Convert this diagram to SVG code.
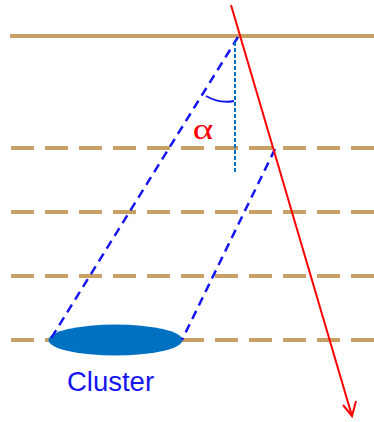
<svg xmlns="http://www.w3.org/2000/svg" width="374" height="422" viewBox="0 0 374 422">
<style>
.layer{stroke:#C9A063;stroke-width:4;fill:none}
.dl{stroke-dasharray:23 11}
.proj{stroke:#1515F0;stroke-width:2.5;stroke-dasharray:9 6;fill:none}
.ray{stroke:#FF0000;stroke-width:2;fill:none}
.lbl{font-family:"Liberation Sans",Arial,sans-serif}
</style>
<g id="layers">
<line class="layer" x1="10" y1="36" x2="374" y2="36"/>
<line class="layer dl" x1="11" y1="148" x2="374" y2="148"/>
<line class="layer dl" x1="11" y1="212" x2="374" y2="212"/>
<line class="layer dl" x1="11" y1="276" x2="374" y2="276"/>
<line class="layer dl" x1="11" y1="340" x2="374" y2="340"/>
</g>
<g id="cluster">
<ellipse cx="115.5" cy="340" rx="67" ry="15.5" fill="#0070C0"/>
<text class="lbl" x="110.5" y="391" font-size="27.5" fill="#1515F0" text-anchor="middle">Cluster</text>
</g>
<g id="connectors">
<line class="proj" x1="238" y1="37" x2="50" y2="340"/>
<line class="proj" x1="275" y1="149" x2="182" y2="340"/>
<line x1="235" y1="42" x2="235" y2="172" stroke="#0070C0" stroke-width="2" stroke-dasharray="4 2"/>
<path d="M206 96 Q220 104 234 101" stroke="#1515F0" stroke-width="2" fill="none"/>
<line class="ray" x1="231" y1="5" x2="352" y2="416"/>
<polyline class="ray" points="343,405 352,416 356,401"/>
</g>
<g id="alpha">
<text transform="translate(203 139) scale(1.3 1)" font-family="'Liberation Serif','Times New Roman',serif" font-size="30" fill="#FF0000" text-anchor="middle">α</text>
</g>
</svg>
